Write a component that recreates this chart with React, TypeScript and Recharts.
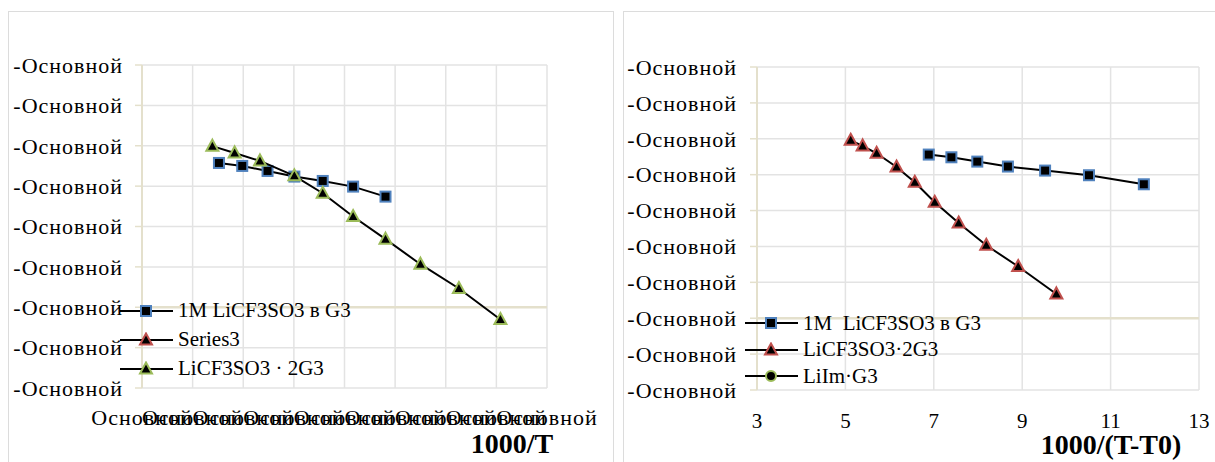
import React from "react";
import { ScatterChart, Scatter, XAxis, YAxis, CartesianGrid, ReferenceLine, Legend } from "recharts";

const SERIF = '"Liberation Serif", "Times New Roman", serif';
const GRID = "#e3e3e3";
const AXIS = "#e4e0cc";
const BLUE = "#4f81bd";
const RED = "#c0504d";
const GREEN = "#9bbb59";

// left chart: 1000/T
const tXTicks = [2.8, 2.9, 3.0, 3.1, 3.2, 3.3, 3.4, 3.5, 3.6];
const tYTicks = [-6, -5.5, -5, -4.5, -4, -3.5, -3, -2.5, -2];
const g3X = [2.952, 2.998, 3.048, 3.101, 3.157, 3.217, 3.281];
const g3Y = [-3.213, -3.25, -3.312, -3.382, -3.436, -3.506, -3.63];
const solvX = [2.939, 2.983, 3.033, 3.101, 3.157, 3.217, 3.281, 3.35, 3.426, 3.508];
const solvY = [-3.005, -3.089, -3.188, -3.373, -3.588, -3.877, -4.157, -4.467, -4.768, -5.152];

// right chart: 1000/(T-T0)
const vXTicks = [3, 5, 7, 9, 11, 13];
const vYTicks = [-6, -5.5, -5, -4.5, -4, -3.5, -3, -2.5, -2, -1.5];
const vg3X = [6.886, 7.398, 7.984, 8.677, 9.518, 10.511, 11.752];
const vg3Y = [-2.72, -2.758, -2.818, -2.887, -2.943, -3.008, -3.134];
const vSolvX = [5.12, 5.39, 5.706, 6.157, 6.57, 7.021, 7.563, 8.187, 8.909, 9.773];
const vSolvY = [-2.521, -2.6, -2.702, -2.893, -3.106, -3.384, -3.673, -3.983, -4.28, -4.662];

const toPoints = (xs: number[], ys: number[]) => xs.map((x, i) => ({ x, y: ys[i] }));

const drawMarker = (kind: string, color: string, cx: number, cy: number) => {
  if (kind === "square")
    return <rect x={cx - 5} y={cy - 5} width={10} height={10} fill="#000" stroke={color} strokeWidth={2} />;
  if (kind === "triangle")
    return (
      <polygon
        points={`${cx},${cy - 6.5} ${cx + 6},${cy + 4.5} ${cx - 6},${cy + 4.5}`}
        fill="#000"
        stroke={color}
        strokeWidth={2}
      />
    );
  return <circle cx={cx} cy={cy} r={5} fill="#000" stroke={color} strokeWidth={2} />;
};

const shapeOf = (kind: string, color: string) => (p: any) => drawMarker(kind, color, p.cx, p.cy);

const leftLegend = [
  { name: "1M LiCF3SO3 в G3", kind: "square", color: BLUE },
  { name: "Series3", kind: "triangle", color: RED },
  { name: "LiCF3SO3 · 2G3", kind: "triangle", color: GREEN },
];
const rightLegend = [
  { name: "1M  LiCF3SO3 в G3", kind: "square", color: BLUE },
  { name: "LiCF3SO3·2G3", kind: "triangle", color: RED },
  { name: "LiIm·G3", kind: "circle", color: GREEN },
];

const LegendBox = ({ items, rowH }: { items: typeof leftLegend; rowH: number }) => (
  <div style={{ fontFamily: SERIF, fontSize: 21, color: "#000" }}>
    {items.map((it) => (
      <div key={it.name} style={{ display: "flex", alignItems: "center", height: rowH, whiteSpace: "pre" }}>
        <svg width={53} height={16} style={{ display: "block" }}>
          <line x1={0} y1={8} x2={53} y2={8} stroke="#000" strokeWidth={2} />
          {drawMarker(it.kind, it.color, 26, 8)}
        </svg>
        <span style={{ marginLeft: 5, lineHeight: 1 }}>{it.name}</span>
      </div>
    ))}
  </div>
);

const tickStyle = { fontSize: 21, fill: "#000", fontFamily: SERIF };
const wordTick = { fontSize: 22, fill: "#000", fontFamily: SERIF, style: { letterSpacing: "1px" } };
const lineStyle = { stroke: "#000", strokeWidth: 2 };

export default function App() {
  return (
    <div
      style={{
        position: "absolute",
        left: 0,
        top: 0,
        width: 1215,
        height: 462,
        overflow: "hidden",
        background: "#fff",
        fontFamily: SERIF,
      }}
    >
      <div style={{ position: "absolute", left: 8, top: 11, width: 604, height: 460, border: "1px solid #dcdcdc" }} />
      <div style={{ position: "absolute", left: 623, top: 11, width: 620, height: 460, border: "1px solid #dcdcdc" }} />

      {/* 1000/T */}
      <div style={{ position: "absolute", left: 0, top: 0 }}>
        <ScatterChart width={613} height={462} margin={{ top: 65, right: 66, bottom: 34, left: 8 }}>
          <CartesianGrid stroke={GRID} strokeWidth={1.5} />
          <XAxis
            type="number"
            dataKey="x"
            domain={[2.8, 3.6]}
            ticks={tXTicks}
            interval={0}
            height={40}
            axisLine={false}
            tickLine={false}
            tickMargin={15}
            tick={wordTick}
            tickFormatter={() => "Основной"}
          />
          <YAxis
            type="number"
            dataKey="y"
            domain={[-6, -2]}
            ticks={tYTicks}
            interval={0}
            width={134}
            axisLine={{ stroke: AXIS, strokeWidth: 2 }}
            tickLine={{ stroke: AXIS, strokeWidth: 1.5 }}
            tickSize={7}
            tickMargin={12}
            tick={wordTick}
            tickFormatter={() => "-Основной"}
          />
          <ReferenceLine y={-5} stroke={AXIS} strokeWidth={2.5} />
          <Scatter name="1M LiCF3SO3 в G3" data={toPoints(g3X, g3Y)} line={lineStyle} lineType="joint" shape={shapeOf("square", BLUE)} isAnimationActive={false} />
          <Scatter name="Series3" data={[]} line={lineStyle} shape={shapeOf("triangle", RED)} isAnimationActive={false} />
          <Scatter name="LiCF3SO3 · 2G3" data={toPoints(solvX, solvY)} line={lineStyle} lineType="joint" shape={shapeOf("triangle", GREEN)} isAnimationActive={false} />
          <Legend
            layout="vertical"
            align="center"
            verticalAlign="middle"
            wrapperStyle={{ left: 120, top: 296, width: 300 }}
            content={() => <LegendBox items={leftLegend} rowH={29} />}
          />
        </ScatterChart>
        <div style={{ position: "absolute", left: 412, width: 200, top: 430, textAlign: "center", fontSize: 28, fontWeight: "bold", lineHeight: "28px" }}>
          1000/T
        </div>
      </div>

      {/* 1000/(T-T0) */}
      <div style={{ position: "absolute", left: 613, top: 0 }}>
        <ScatterChart width={602} height={462} margin={{ top: 67, right: 16, bottom: 32, left: 10 }}>
          <CartesianGrid stroke={GRID} strokeWidth={1.5} />
          <XAxis
            type="number"
            dataKey="x"
            domain={[3, 13]}
            ticks={vXTicks}
            interval={0}
            height={40}
            axisLine={false}
            tickLine={false}
            tickMargin={17}
            tick={tickStyle}
          />
          <YAxis
            type="number"
            dataKey="y"
            domain={[-6, -1.5]}
            ticks={vYTicks}
            interval={0}
            width={134}
            axisLine={{ stroke: AXIS, strokeWidth: 2 }}
            tickLine={{ stroke: AXIS, strokeWidth: 1.5 }}
            tickSize={7}
            tickMargin={13}
            tick={wordTick}
            tickFormatter={() => "-Основной"}
          />
          <ReferenceLine y={-5} stroke={AXIS} strokeWidth={2.5} />
          <Scatter name="1M  LiCF3SO3 в G3" data={toPoints(vg3X, vg3Y)} line={lineStyle} lineType="joint" shape={shapeOf("square", BLUE)} isAnimationActive={false} />
          <Scatter name="LiCF3SO3·2G3" data={toPoints(vSolvX, vSolvY)} line={lineStyle} lineType="joint" shape={shapeOf("triangle", RED)} isAnimationActive={false} />
          <Scatter name="LiIm·G3" data={[]} line={lineStyle} shape={shapeOf("circle", GREEN)} isAnimationActive={false} />
          <Legend
            layout="vertical"
            align="center"
            verticalAlign="middle"
            wrapperStyle={{ left: 132, top: 310, width: 300 }}
            content={() => <LegendBox items={rightLegend} rowH={26.5} />}
          />
        </ScatterChart>
        <div style={{ position: "absolute", left: 398, width: 200, top: 431, textAlign: "center", fontSize: 28, fontWeight: "bold", lineHeight: "28px" }}>
          1000/(T-T0)
        </div>
      </div>
    </div>
  );
}
